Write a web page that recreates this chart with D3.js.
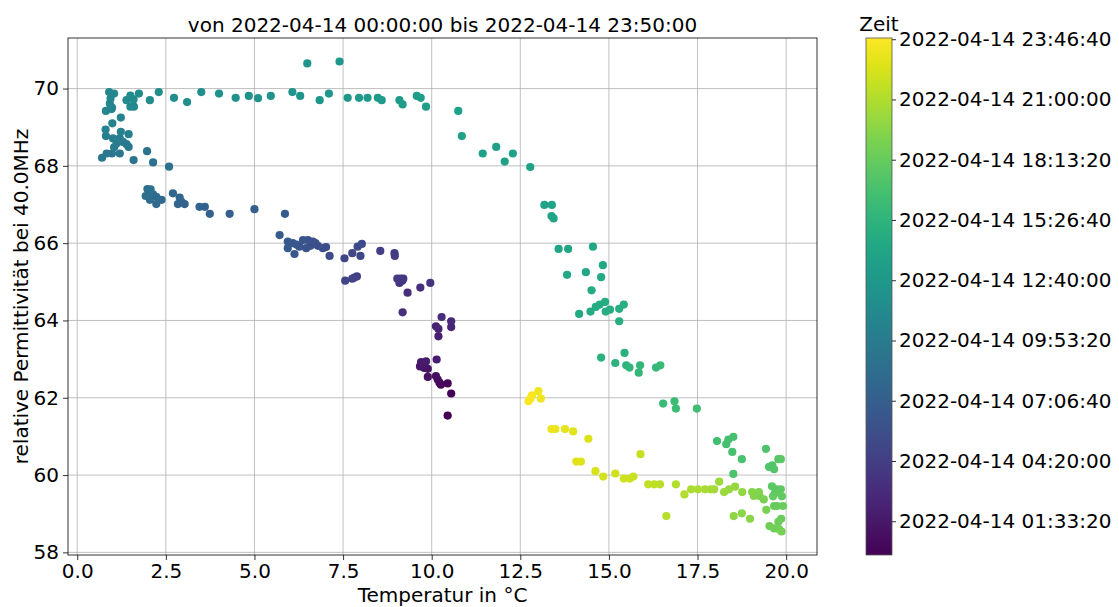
<!DOCTYPE html>
<html><head><meta charset="utf-8">
<script src="https://cdn.jsdelivr.net/npm/d3@7"></script>
<style>body{margin:0;background:#fff}svg{display:block;font-family:"DejaVu Sans",sans-serif}</style>
</head><body>
<svg id="c" width="1119" height="607"></svg>
<script>
// Temperatur (°C), relative Permittivität, Zeit (Minuten nach 2022-04-14 00:00)
const temperature = [
10.45,10.55,10.45,10.26,10.22,10.17,10.12,9.89,9.89,9.79,9.67,9.75,9.70,9.84,10.14,
10.19,10.12,10.19,10.55,10.55,10.28,
9.18,9.32,9.68,9.96,9.09,9.17,9.20,9.12,9.03,
8.95,8.96,8.55,7.89,7.82,7.76,7.56,7.54,7.76,7.99,7.91,8.03,
7.12,7.02,6.93,6.79,6.72,6.65,6.58,6.51,6.46,6.37,6.27,6.19,6.13,6.08,5.94,5.94,5.71,5.86,
5.00,4.30,3.74,3.60,3.45,3.03,2.94,2.84,2.89,2.70,2.38,2.23,2.23,2.05,2.14,2.03,1.93,1.98,2.07,
2.59,2.14,1.97,1.59,1.20,0.98,0.83,0.70,1.45,1.39,1.29,1.04,1.11,1.20,1.01,0.81,1.45,1.23,0.80,0.99,1.23,
0.81,0.97,0.98,0.92,0.94,0.90,1.04,1.50,1.60,1.39,1.50,1.59,1.74,
2.05,2.30,2.73,3.10,3.50,4.00,4.47,4.84,5.10,5.46,6.07,6.29,6.49,6.84,7.10,7.40,7.63,7.95,8.19,8.48,8.59,9.09,9.18,9.58,9.69,9.84,
10.75,10.85,11.44,11.82,12.06,12.29,12.78,13.18,13.39,13.38,13.44,13.58,13.85,14.55,14.83,13.82,14.35,14.78,14.51,14.16,14.48,14.63,14.74,14.89,14.91,15.03,15.29,15.42,15.29,
14.78,15.44,15.18,15.49,15.58,15.88,15.84,16.33,16.45,16.53,16.85,16.89,17.48,
18.05,18.31,18.37,18.51,18.48,18.75,18.51,19.43,19.52,19.61,19.66,19.78,19.85,
19.60,19.74,19.85,19.68,19.88,19.63,19.66,19.75,19.91,19.86,19.78,19.53,19.66,19.80,19.87,
19.44,19.37,19.25,19.23,19.09,19.04,18.98,18.75,18.52,18.76,18.56,18.39,18.25,18.11,17.97,17.87,17.71,17.51,17.32,17.13,16.89,16.62,16.44,16.28,16.11,15.89,15.69,15.59,15.42,15.18,14.84,14.62,14.42,14.21,14.08,13.99,13.76,13.49,13.38,13.08,13.01,12.83,12.78,12.73
];
const permittivity = [
61.54,62.11,62.37,62.34,62.39,62.47,62.56,62.54,62.75,62.77,62.81,62.83,62.92,62.94,62.99,
63.59,63.85,63.78,63.83,63.98,64.09,
64.21,64.72,64.85,64.97,64.97,65.03,65.08,65.08,65.08,
65.74,65.67,65.80,65.14,65.11,65.08,65.03,65.61,65.74,65.67,65.91,65.98,
65.67,65.90,65.87,65.93,66.00,66.04,65.93,66.08,65.87,66.08,65.91,65.96,65.72,66.00,66.04,65.87,66.21,66.76,
66.88,66.76,66.76,66.94,66.94,67.01,67.07,67.01,67.18,67.29,67.12,67.01,67.20,67.12,67.26,67.25,67.22,67.40,67.39,
67.98,68.09,68.38,68.15,68.32,68.32,68.32,68.21,68.49,68.56,68.62,68.48,68.58,68.71,68.71,68.77,68.82,68.88,68.94,69.10,69.25,
69.42,69.47,69.51,69.61,69.74,69.91,69.87,69.53,69.53,69.70,69.82,69.72,69.87,
69.70,69.91,69.76,69.65,69.91,69.87,69.76,69.81,69.75,69.81,69.91,69.81,70.65,69.70,69.87,70.70,69.76,69.76,69.76,69.76,69.70,69.70,69.59,69.81,69.76,69.53,
69.42,68.77,68.32,68.49,68.11,68.32,67.97,66.99,66.99,66.70,66.64,65.85,65.85,65.91,65.43,65.18,65.25,65.12,64.78,64.17,64.23,64.35,64.41,64.48,64.23,64.28,64.30,64.41,63.98,
63.04,63.16,62.90,62.84,62.78,62.84,62.65,62.78,62.84,61.85,61.91,61.72,61.72,
60.88,60.80,60.92,60.99,60.60,60.41,60.03,60.68,60.21,60.25,60.15,60.41,60.41,
59.71,59.63,59.63,59.53,59.45,59.45,59.20,59.20,59.20,58.87,58.79,58.68,58.62,58.60,58.54,
59.10,59.37,59.46,59.56,59.46,59.56,58.87,59.01,58.94,59.56,59.70,59.63,59.56,59.83,59.63,59.63,59.63,59.63,59.63,59.50,59.76,58.94,59.76,59.76,59.76,60.54,59.96,59.91,59.91,60.04,59.96,60.10,60.94,60.35,60.35,61.13,61.19,61.19,61.19,61.98,62.17,62.06,61.97,61.91
];
const minutes = [
0,8,16,24,32,40,48,56,64,72,80,88,96,104,110,
120,130,140,150,165,180,
185,193,200,208,215,222,230,237,245,
250,256,262,268,274,280,286,292,298,304,312,320,
325,330,335,340,345,350,355,360,365,370,375,380,385,390,395,400,405,410,
420,426,432,438,444,450,456,462,468,474,480,486,492,498,504,510,516,522,530,
535,540,545,550,555,560,565,570,575,580,585,590,595,600,605,610,615,620,626,632,640,
645,649,652,656,660,664,668,672,675,679,682,686,690,
695,699,703,707,711,715,720,724,728,732,737,741,745,749,753,757,762,766,770,775,779,783,787,791,795,800,
805,809,812,816,819,822,826,829,832,836,839,842,846,849,852,856,859,862,866,869,872,876,879,882,886,889,892,896,900,
905,912,919,926,933,940,947,954,961,968,975,982,990,
995,1000,1005,1010,1016,1021,1026,1032,1037,1042,1048,1054,1060,
1065,1070,1074,1079,1083,1088,1092,1097,1101,1106,1110,1115,1120,1125,1130,
1135,1142,1148,1155,1162,1168,1175,1182,1188,1195,1202,1208,1215,1222,1228,1235,1242,1248,1255,1262,1268,1275,1282,1288,1295,1302,1308,1315,1322,1328,1335,1342,1348,1355,1362,1368,1375,1382,1388,1395,1402,1410,1418,1430
];
const xTicks = [0, 2.5, 5, 7.5, 10, 12.5, 15, 17.5, 20];
const yTicks = [58, 60, 62, 64, 66, 68, 70];
const cbTickSeconds = [5600, 15600, 25600, 35600, 45600, 55600, 65600, 75600, 85600];
const dateLabel = "2022-04-14";
const titleText = "von 2022-04-14 00:00:00 bis 2022-04-14 23:50:00";
const xLabel = "Temperatur in °C";
const yLabel = "relative Permittivität bei 40.0MHz";
const cbLabel = "Zeit";

const svg = d3.select("#c");
const L = 68, R = 817, T = 38, B = 555;
const FS = 20;

const data = temperature.map((t, i) => ({t, e: permittivity[i], s: minutes[i] * 60}));
const xmin = d3.min(temperature), xmax = d3.max(temperature);
const ymin = d3.min(permittivity), ymax = d3.max(permittivity);
const mx = (xmax - xmin) * 0.05, my = (ymax - ymin) * 0.05;
const x = d3.scaleLinear().domain([xmin - mx, xmax + mx]).range([L, R]);
const y = d3.scaleLinear().domain([ymin - my, ymax + my]).range([B, T]);
const smin = d3.min(data, d => d.s), smax = d3.max(data, d => d.s);
const color = d3.scaleSequential(d3.interpolateViridis).domain([smin, smax]);

// grid
const g = svg.append("g");
g.selectAll(".gx").data(xTicks).join("line")
  .attr("x1", d => x(d)).attr("x2", d => x(d)).attr("y1", T).attr("y2", B)
  .attr("stroke", "#b0b0b0").attr("stroke-width", 0.8);
g.selectAll(".gy").data(yTicks).join("line")
  .attr("y1", d => y(d)).attr("y2", d => y(d)).attr("x1", L).attr("x2", R)
  .attr("stroke", "#b0b0b0").attr("stroke-width", 0.8);

// points
svg.append("g").selectAll("circle").data(data).join("circle")
  .attr("cx", d => x(d.t)).attr("cy", d => y(d.e)).attr("r", 4.1)
  .attr("fill", d => color(d.s));

// axes
const xa = svg.append("g").attr("transform", `translate(0,${B})`)
  .call(d3.axisBottom(x).tickValues(xTicks).tickFormat(d3.format(".1f")).tickSize(5).tickPadding(4));
const ya = svg.append("g").attr("transform", `translate(${L},0)`)
  .call(d3.axisLeft(y).tickValues(yTicks).tickFormat(d3.format("d")).tickSize(5).tickPadding(4));
[xa, ya].forEach(a => {
  a.select(".domain").remove();
  a.selectAll("text").attr("font-size", FS).attr("fill", "#000").attr("font-family", "DejaVu Sans");
  a.selectAll("line").attr("stroke", "#000").attr("stroke-width", 0.8);
});
svg.append("rect").attr("x", L).attr("y", T).attr("width", R - L).attr("height", B - T)
  .attr("fill", "none").attr("stroke", "#000").attr("stroke-width", 0.8);

// labels
svg.append("text").attr("x", (L + R) / 2).attr("y", 32).attr("text-anchor", "middle")
  .attr("font-size", FS).text(titleText);
svg.append("text").attr("x", (L + R) / 2).attr("y", 602).attr("text-anchor", "middle")
  .attr("font-size", FS).text(xLabel);
svg.append("text").attr("transform", `translate(28,${(T + B) / 2}) rotate(-90)`)
  .attr("text-anchor", "middle").attr("font-size", FS).text(yLabel);

// colorbar
const CL = 866, CR = 892;
const cy = d3.scaleLinear().domain([smin, smax]).range([B, T]);
const grad = svg.append("defs").append("linearGradient").attr("id", "vg")
  .attr("x1", 0).attr("y1", 1).attr("x2", 0).attr("y2", 0);
d3.range(0, 1.0001, 0.05).forEach(f => grad.append("stop").attr("offset", f).attr("stop-color", d3.interpolateViridis(f)));
svg.append("rect").attr("x", CL).attr("y", T).attr("width", CR - CL).attr("height", B - T)
  .attr("fill", "url(#vg)").attr("stroke", "#555").attr("stroke-width", 0.8);
const fmtT = s => {
  const h = Math.floor(s / 3600), m = Math.floor((s % 3600) / 60), ss = s % 60;
  return `${dateLabel} ${String(h).padStart(2, "0")}:${String(m).padStart(2, "0")}:${String(ss).padStart(2, "0")}`;
};
const ca = svg.append("g").attr("transform", `translate(${CR},0)`)
  .call(d3.axisRight(cy).tickValues(cbTickSeconds).tickFormat(fmtT).tickSize(4).tickPadding(3));
ca.select(".domain").remove();
ca.selectAll("text").attr("font-size", FS).attr("fill", "#000").attr("font-family", "DejaVu Sans");
ca.selectAll("line").attr("stroke", "#000").attr("stroke-width", 0.8);
svg.append("text").attr("x", (CL + CR) / 2).attr("y", 31).attr("text-anchor", "middle")
  .attr("font-size", FS).text(cbLabel);
</script>
</body></html>
